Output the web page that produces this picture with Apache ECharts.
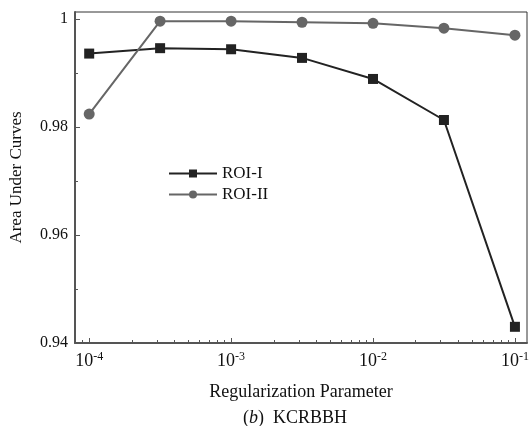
<!DOCTYPE html>
<html>
<head>
<meta charset="utf-8">
<script src="https://cdn.jsdelivr.net/npm/echarts@6/dist/echarts.min.js"></script>
<style>
  html, body { margin: 0; padding: 0; background: #fff; }
  #main { width: 529px; height: 426px; }
</style>
</head>
<body>
<div id="main"></div>
<script>
// regularization parameter values (x)
var params = [1e-4, 3.16e-4, 1e-3, 3.16e-3, 1e-2, 3.16e-2, 1e-1];
var roi1 = [0.9936, 0.9946, 0.9944, 0.9928, 0.9889, 0.9813, 0.9430];
var roi2 = [0.9824, 0.9996, 0.9996, 0.9994, 0.9992, 0.9983, 0.9970];
var decades = [-4, -3, -2, -1];
var yLabels = [0.94, 0.96, 0.98, 1];
var yMinor = [0.95, 0.97, 0.99];

var font = 'Liberation Serif';

// axis works in log10 space
function toPts(ys) {
    return params.map(function (p, i) { return [Math.log10(p), ys[i]]; });
}
var minorX = [];
[-5, -4, -3, -2, -1].forEach(function (d) {
    for (var k = 2; k <= 9; k++) minorX.push(d + Math.log10(k));
});

var myChart = echarts.init(document.getElementById('main'));

var option = {
    backgroundColor: '#fff',
    animation: false,
    grid: {
        left: 75, top: 12, right: 2, bottom: 83,
        outerBoundsMode: 'none',
        show: true, borderColor: '#333', borderWidth: 1
    },
    title: {
        text: '({i|b})  KCRBBH',
        left: 238, top: 404,
        textStyle: {
            fontFamily: font, fontSize: 18, fontWeight: 'normal', color: '#111',
            rich: { i: { fontFamily: font, fontSize: 18, fontStyle: 'italic', color: '#111' } }
        }
    },
    legend: {
        orient: 'vertical',
        left: 163, top: 160,
        itemWidth: 48, itemHeight: 10, itemGap: 4,
        textStyle: { fontFamily: font, fontSize: 17, color: '#111' },
        data: ['ROI-I', 'ROI-II']
    },
    xAxis: [{
        type: 'value',
        min: -4.1, max: -0.915,
        name: 'Regularization Parameter',
        nameLocation: 'middle', nameGap: 40,
        nameTextStyle: { fontFamily: font, fontSize: 18, color: '#111' },
        axisLine: { lineStyle: { color: '#555', width: 2 } },
        axisTick: { inside: true, length: 5, customValues: decades, lineStyle: { color: '#555' } },
        splitLine: { show: false },
        axisLabel: {
            customValues: decades, margin: 8,
            formatter: function (v) { return '{b|10}{s|' + v + '}'; },
            rich: {
                b: { fontFamily: font, fontSize: 18, color: '#111' },
                s: { fontFamily: font, fontSize: 12, color: '#111', verticalAlign: 'top', padding: [0, 0, 9, 0] }
            }
        }
    }, {
        type: 'value',
        min: -4.1, max: -0.915,
        position: 'bottom',
        axisLine: { show: false },
        axisTick: { inside: true, length: 3, customValues: minorX, lineStyle: { color: '#555' } },
        axisLabel: { show: false },
        splitLine: { show: false }
    }],
    yAxis: [{
        type: 'value',
        min: 0.94, max: 1.0013,
        name: 'Area Under Curves',
        nameLocation: 'middle', nameGap: 50,
        nameTextStyle: { fontFamily: font, fontSize: 17, color: '#111' },
        axisLine: { show: true, lineStyle: { color: '#555', width: 2 } },
        axisTick: { show: true, inside: true, length: 5, customValues: yLabels, lineStyle: { color: '#555' } },
        splitLine: { show: false },
        axisLabel: {
            customValues: yLabels, margin: 7,
            fontFamily: font, fontSize: 16, color: '#111',
            formatter: function (v) { return v === 1 ? '1' : v.toFixed(2); }
        }
    }, {
        type: 'value',
        min: 0.94, max: 1.0013,
        position: 'left',
        axisLine: { show: false },
        axisTick: { show: true, inside: true, length: 3, customValues: yMinor, lineStyle: { color: '#555' } },
        axisLabel: { show: false },
        splitLine: { show: false }
    }],
    series: [{
        name: 'ROI-I',
        type: 'line',
        data: toPts(roi1),
        symbol: 'rect', symbolSize: 10,
        itemStyle: { color: '#222' },
        lineStyle: { color: '#222', width: 2 }
    }, {
        name: 'ROI-II',
        type: 'line',
        data: toPts(roi2),
        symbol: 'circle', symbolSize: 11,
        itemStyle: { color: '#666' },
        lineStyle: { color: '#666', width: 2 }
    }]
};

myChart.setOption(option);
window.onresize = myChart.resize;
</script>
</body>
</html>
